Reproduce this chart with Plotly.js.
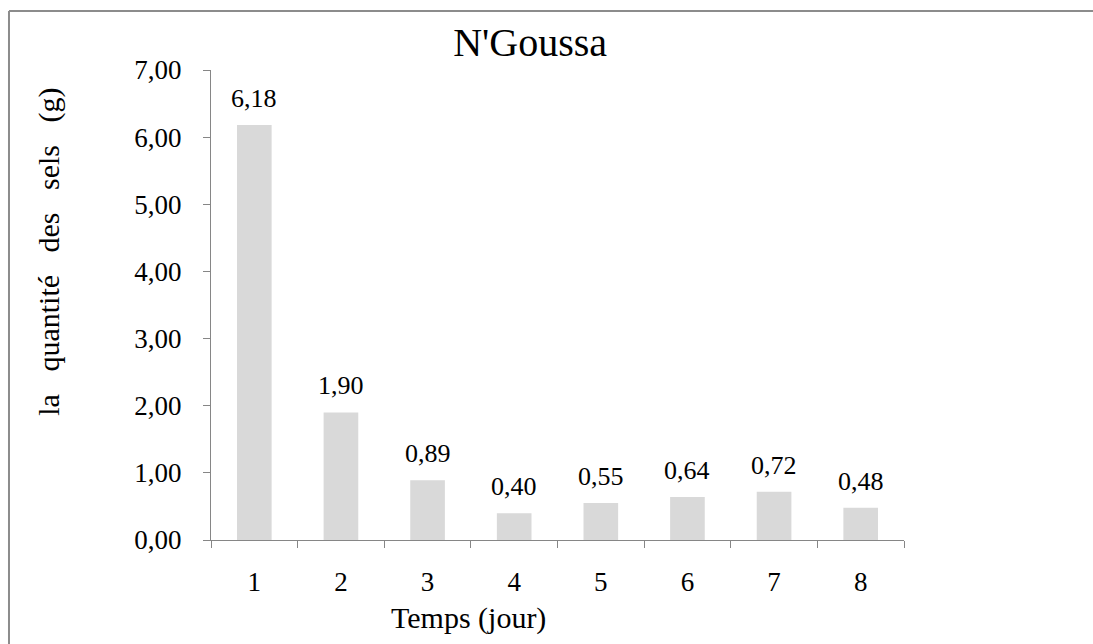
<!DOCTYPE html>
<html>
<head>
<meta charset="utf-8">
<script src="https://cdn.plot.ly/plotly-3.0.1.min.js"></script>
<style>html,body{margin:0;padding:0;background:#fff;}</style>
</head>
<body>
<div id="chart" style="width:1093px;height:644px;"></div>
<script>
const days = ['1','2','3','4','5','6','7','8'];
const salts = [6.18, 1.90, 0.89, 0.40, 0.55, 0.64, 0.72, 0.48];
const yTicks = [0,1,2,3,4,5,6,7];
const chartTitle = "N'Goussa";
const xTitle = "Temps (jour)";
const yTitle = "la\u00A0\u00A0 quantité\u00A0\u00A0 des\u00A0\u00A0 sels\u00A0\u00A0 (g)";

const FONT = "Liberation Serif";
const fmt = v => v.toFixed(2).replace('.', ',');

const trace = {
  type: 'bar',
  x: days,
  y: salts,
  marker: {color: '#d9d9d9'},
  hoverinfo: 'skip'
};

const labelAnns = days.map((d, i) => ({
  x: i, y: salts[i], xref: 'x', yref: 'y',
  text: fmt(salts[i]), showarrow: false,
  yanchor: 'bottom', yshift: 10,
  font: {family: FONT, size: 26, color: '#000'}
}));

const layout = {
  width: 1093, height: 644,
  margin: {l: 211, r: 189, t: 70, b: 104},
  paper_bgcolor: '#fff', plot_bgcolor: '#fff',
  separators: ', ',
  showlegend: false,
  bargap: 0.6,
  font: {family: FONT, color: '#000'},
  title: {text: chartTitle, font: {family: FONT, size: 40, color: '#000'},
          x: 0.485, xref: 'container', xanchor: 'center',
          y: 0.935, yref: 'container', yanchor: 'middle'},
  xaxis: {
    type: 'category', range: [-0.5, 7.5],
    showline: true, linecolor: '#868686', linewidth: 1,
    ticks: 'outside', ticklen: 7, tickcolor: '#868686', tickson: 'boundaries',
    showgrid: false, zeroline: false,
    tickfont: {family: FONT, size: 27, color: '#000'},
    ticklabelstandoff: 18
  },
  yaxis: {
    range: [0, 7], tickvals: yTicks, tickformat: '.2f',
    showline: true, linecolor: '#868686', linewidth: 1,
    ticks: 'outside', ticklen: 7, tickcolor: '#868686',
    showgrid: false, zeroline: false,
    tickfont: {family: FONT, size: 27, color: '#000'},
    ticklabelstandoff: 16
  },
  annotations: labelAnns.concat([
    {text: xTitle, xref: 'paper', yref: 'paper', x: 0.372, y: -0.165,
     xanchor: 'center', yanchor: 'middle', showarrow: false,
     font: {family: FONT, size: 30, color: '#000'}},
    {text: yTitle, xref: 'paper', yref: 'paper', x: -0.234, y: 0.613,
     xanchor: 'center', yanchor: 'middle', showarrow: false, textangle: -90,
     font: {family: FONT, size: 30, color: '#000'}}
  ]),
  shapes: [
    {type: 'line', xref: 'paper', yref: 'paper', x0: -0.2915, x1: -0.2915, y0: 1.1255, y1: -0.3,
     line: {color: '#8c8c8c', width: 2}},
    {type: 'line', xref: 'paper', yref: 'paper', x0: -0.2915, x1: 1.3, y0: 1.1255, y1: 1.1255,
     line: {color: '#8c8c8c', width: 2}}
  ]
};

Plotly.newPlot('chart', [trace], layout, {displayModeBar: false, staticPlot: true});
</script>
</body>
</html>
